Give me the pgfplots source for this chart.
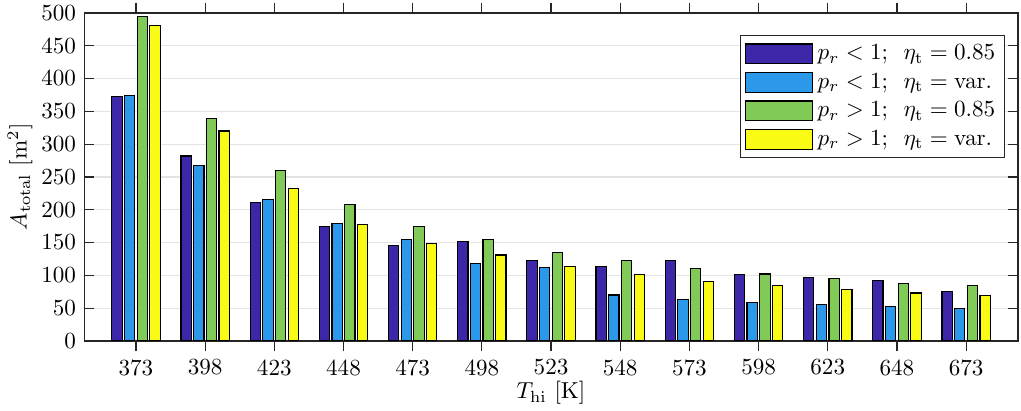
\documentclass[border=0pt]{standalone}
\usepackage{pgfplots}
\pgfplotsset{compat=1.18}
\definecolor{c1}{RGB}{62,38,168}
\definecolor{c2}{RGB}{43,152,234}
\definecolor{c3}{RGB}{128,203,88}
\definecolor{c4}{RGB}{249,251,20}
\definecolor{axc}{RGB}{38,38,38}
\definecolor{gridc}{RGB}{228,228,228}
\begin{document}
\begin{tikzpicture}
\begin{axis}[
  name=ax,
  scale only axis,
  width=404.3pt, height=142pt,
  xmin=-0.75, xmax=12.75,
  ymin=0, ymax=500,
  ytick={0,50,...,500},
  xtick={0,1,...,12},
  xticklabels={373,398,423,448,473,498,523,548,573,598,623,648,673},
  ymajorgrids,
  grid style={gridc, line width=0.5pt},
  axis line style={axc, line width=0.5pt},
  tick style={axc, line width=0.5pt},
  major tick length=4.5pt,
  tick align=inside,
  xtick pos=both, ytick pos=both,
  every tick label/.append style={text=black},
  xlabel={$T_{\mathrm{hi}}$ [K]},
  ylabel={$A_{\mathrm{total}}$ [m$^2$]},
  xlabel style={at={(axis description cs:0.5,-0.158)}, anchor=center},
  ylabel style={at={(axis description cs:-0.0685,0.5)}, anchor=center},
  ybar,
  bar width=0.149,
  legend cell align=left,
  legend style={at={(1,1)}, anchor=north east, xshift=-5.6pt, yshift=-9.5pt,
    draw=axc, line width=0.5pt, row sep=0.4pt, inner sep=2pt},
  legend image code/.code={\draw[#1, draw=black, line width=0.5pt] (0pt,-4.3pt) rectangle (29pt,4.3pt);},
]
\addplot[fill=c1, draw=black, line width=0.5pt, bar shift=-0.275] coordinates {
(0,373) (1,282) (2,211) (3,174) (4,146) (5,151) (6,123) (7,114) (8,122) (9,101) (10,97) (11,92) (12,75)};
\addplot[fill=c2, draw=black, line width=0.5pt, bar shift=-0.092] coordinates {
(0,374) (1,268) (2,215) (3,179) (4,155) (5,118) (6,112) (7,70) (8,63) (9,59) (10,55) (11,52) (12,49)};
\addplot[fill=c3, draw=black, line width=0.5pt, bar shift=0.092] coordinates {
(0,495) (1,339) (2,260) (3,208) (4,174) (5,155) (6,135) (7,122) (8,110) (9,102) (10,95) (11,88) (12,84)};
\addplot[fill=c4, draw=black, line width=0.5pt, bar shift=0.275] coordinates {
(0,481) (1,320) (2,233) (3,177) (4,149) (5,131) (6,113) (7,101) (8,91) (9,85) (10,79) (11,73) (12,69)};
\legend{$p_r<1;\hspace{5pt}\eta_{\mathrm{t}}=0.85$,$p_r<1;\hspace{5pt}\eta_{\mathrm{t}}=\mathrm{var.}$,$p_r>1;\hspace{5pt}\eta_{\mathrm{t}}=0.85$,$p_r>1;\hspace{5pt}\eta_{\mathrm{t}}=\mathrm{var.}$}
\end{axis}
\pgfresetboundingbox
\path[use as bounding box] ([xshift=-36.4pt,yshift=-30.3pt]ax.south west) rectangle ([xshift=1.3pt,yshift=5.6pt]ax.north east);
\end{tikzpicture}
\end{document}
